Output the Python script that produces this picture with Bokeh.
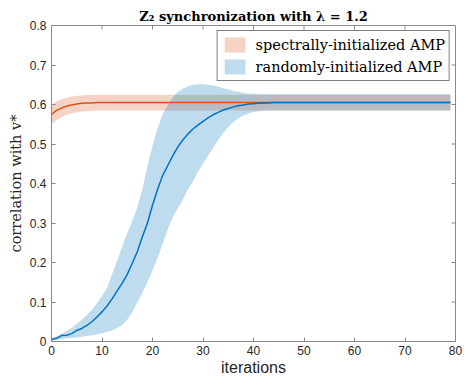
import math
from bokeh.plotting import figure
from bokeh.models import (Legend, LegendItem, FixedTicker, Range1d, ColumnDataSource)
from bokeh.embed import file_html
from bokeh.resources import INLINE

# ---------------- data ----------------
iters = list(range(0, 46)) + [50, 55, 60, 65, 70, 75, 79]

rand_mean = [0.005, 0.008, 0.015, 0.016, 0.020, 0.028, 0.033, 0.041, 0.050, 0.062,
             0.075, 0.090, 0.108, 0.128, 0.148, 0.170, 0.198, 0.228, 0.265, 0.300,
             0.345, 0.385, 0.420, 0.445, 0.470, 0.492, 0.510, 0.525, 0.538, 0.548,
             0.557, 0.566, 0.574, 0.580, 0.586, 0.590, 0.594, 0.597, 0.599, 0.601,
             0.602, 0.603, 0.604, 0.604, 0.605, 0.605,
             0.605, 0.605, 0.605, 0.605, 0.605, 0.605, 0.605]
rand_upper = [0.008, 0.013, 0.020, 0.026, 0.035, 0.044, 0.055, 0.067, 0.080, 0.097,
              0.115, 0.136, 0.170, 0.205, 0.240, 0.275, 0.305, 0.340, 0.385, 0.445,
              0.495, 0.540, 0.575, 0.598, 0.618, 0.632, 0.640, 0.646, 0.650, 0.651,
              0.651, 0.650, 0.648, 0.645, 0.641, 0.638, 0.635, 0.632, 0.630, 0.628,
              0.627, 0.626, 0.626, 0.626, 0.626, 0.626,
              0.626, 0.626, 0.626, 0.626, 0.626, 0.626, 0.626]
rand_lower = [0.002, 0.004, 0.006, 0.008, 0.009, 0.010, 0.012, 0.014, 0.016, 0.018,
              0.021, 0.024, 0.028, 0.034, 0.042, 0.055, 0.075, 0.099, 0.123, 0.150,
              0.180, 0.212, 0.247, 0.283, 0.315, 0.337, 0.358, 0.385, 0.405, 0.430,
              0.450, 0.470, 0.490, 0.510, 0.528, 0.543, 0.555, 0.565, 0.572, 0.577,
              0.581, 0.583, 0.584, 0.585, 0.585, 0.585,
              0.585, 0.585, 0.585, 0.585, 0.585, 0.585, 0.585]

spec_mean = [0.575, 0.585, 0.591, 0.596, 0.599, 0.601, 0.603, 0.604, 0.604, 0.605,
             0.605, 0.605, 0.605, 0.605, 0.605, 0.605, 0.605, 0.605, 0.605, 0.605,
             0.605, 0.605, 0.605, 0.605, 0.605, 0.605, 0.605, 0.605, 0.605, 0.605,
             0.605, 0.605, 0.605, 0.605, 0.605, 0.605, 0.605, 0.605, 0.605, 0.605,
             0.605, 0.605, 0.605, 0.605, 0.605, 0.605,
             0.605, 0.605, 0.605, 0.605, 0.605, 0.605, 0.605]
spec_upper = [0.600, 0.608, 0.613, 0.617, 0.620, 0.622, 0.623, 0.624, 0.624, 0.625,
              0.625, 0.625, 0.625, 0.625, 0.625, 0.625, 0.625, 0.625, 0.625, 0.625,
              0.625, 0.625, 0.625, 0.625, 0.625, 0.625, 0.625, 0.625, 0.625, 0.625,
              0.625, 0.625, 0.625, 0.625, 0.625, 0.625, 0.625, 0.625, 0.625, 0.625,
              0.625, 0.625, 0.625, 0.625, 0.625, 0.625,
              0.625, 0.625, 0.625, 0.625, 0.625, 0.625, 0.625]
spec_lower = [0.550, 0.561, 0.568, 0.574, 0.578, 0.580, 0.582, 0.583, 0.584, 0.585,
              0.585, 0.585, 0.585, 0.585, 0.585, 0.585, 0.585, 0.585, 0.585, 0.585,
              0.585, 0.585, 0.585, 0.585, 0.585, 0.585, 0.585, 0.585, 0.585, 0.585,
              0.585, 0.585, 0.585, 0.585, 0.585, 0.585, 0.585, 0.585, 0.585, 0.585,
              0.585, 0.585, 0.585, 0.585, 0.585, 0.585,
              0.585, 0.585, 0.585, 0.585, 0.585, 0.585, 0.585]

x_ticks = [0, 10, 20, 30, 40, 50, 60, 70, 80]
y_ticks = [0, 0.1, 0.2, 0.3, 0.4, 0.5, 0.6, 0.7, 0.8]
x_min, x_max = 0, 80
y_min, y_max = 0, 0.8
title_text = "Z\u2082 synchronization with \u03bb = 1.2"
labels = ["spectrally-initialized AMP", "randomly-initialized AMP"]

# ---------------- styling ----------------
ORANGE = "#D95319"
BLUE = "#0072BD"
AXIS_GRAY = "#8a8a8a"
TEXT_DARK = "#262626"
SERIF = "DejaVu Serif"
SANS = "Liberation Sans"

src = ColumnDataSource(dict(x=iters, rm=rand_mean, ru=rand_upper, rl=rand_lower,
                            sm=spec_mean, su=spec_upper, sl=spec_lower))

p = figure(width=462, height=378, output_backend="svg", toolbar_location=None,
           x_range=Range1d(x_min, x_max), y_range=Range1d(y_min, y_max),
           min_border_left=51, min_border_right=7, min_border_top=25,
           min_border_bottom=36)
p.background_fill_color = "white"
p.border_fill_color = "white"
p.outline_line_color = AXIS_GRAY
p.outline_line_width = 1
p.xgrid.visible = False
p.ygrid.visible = False

p.title.text = title_text
p.title.align = "center"
p.title.text_font = SERIF
p.title.text_font_size = "13px"
p.title.text_font_style = "bold"
p.title.text_color = "black"
p.title.standoff = 4

spec_band = p.varea(x="x", y1="sl", y2="su", source=src, fill_color=ORANGE,
                    fill_alpha=0.25)
rand_band = p.varea(x="x", y1="rl", y2="ru", source=src, fill_color=BLUE,
                    fill_alpha=0.25)
p.line(x="x", y="sm", source=src, line_color=ORANGE, line_width=1.5)
p.line(x="x", y="rm", source=src, line_color=BLUE, line_width=1.5)

# mirrored tick marks on the top and right edges of the box (half of each dash
# is clipped away by the frame, leaving an inward tick)
p.scatter(x=x_ticks, y=[y_max] * len(x_ticks), marker="dash", size=8,
          angle=math.pi / 2, line_color=AXIS_GRAY, line_width=1)
p.scatter(x=[x_max] * len(y_ticks), y=y_ticks, marker="dash", size=8,
          line_color=AXIS_GRAY, line_width=1)

for ax in (p.xaxis[0], p.yaxis[0]):
    ax.axis_line_color = AXIS_GRAY
    ax.major_tick_line_color = AXIS_GRAY
    ax.major_tick_in = 4
    ax.major_tick_out = 0
    ax.minor_tick_line_color = None
    ax.major_label_text_font = SANS
    ax.major_label_text_font_size = "12px"
    ax.major_label_text_color = TEXT_DARK
    ax.axis_label_text_color = TEXT_DARK
    ax.axis_label_text_font_style = "normal"

p.xaxis[0].ticker = FixedTicker(ticks=x_ticks)
p.yaxis[0].ticker = FixedTicker(ticks=y_ticks)
p.xaxis[0].major_label_standoff = 4
p.yaxis[0].major_label_standoff = 5
p.xaxis[0].axis_label = "iterations"
p.xaxis[0].axis_label_text_font = SANS
p.xaxis[0].axis_label_text_font_size = "16px"
p.xaxis[0].axis_label_standoff = 1
p.yaxis[0].axis_label = "correlation with v*"
p.yaxis[0].axis_label_text_font = SERIF
p.yaxis[0].axis_label_text_font_size = "14.5px"
p.yaxis[0].axis_label_standoff = 3

legend = Legend(items=[LegendItem(label=labels[0], renderers=[spec_band]),
                       LegendItem(label=labels[1], renderers=[rand_band])],
                location="top_right", margin=5, padding=4, spacing=3,
                glyph_width=26, glyph_height=19, label_standoff=8,
                label_text_font=SERIF, label_text_font_size="14.5px",
                label_text_color="black", label_height=19,
                border_line_color="black", border_line_width=1,
                background_fill_color="white", background_fill_alpha=1)
p.add_layout(legend)

open("out.html", "w").write(file_html(p, INLINE))
